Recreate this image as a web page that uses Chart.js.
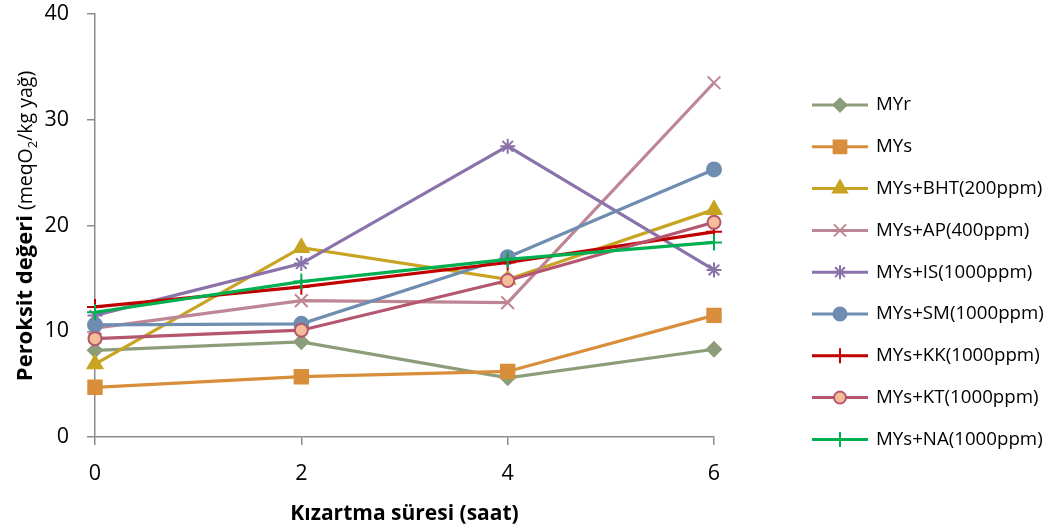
<!DOCTYPE html>
<html>
<head>
<meta charset="utf-8">
<script src="https://cdn.jsdelivr.net/npm/chart.js@4/dist/chart.umd.min.js"></script>
<style>
  html, body { margin: 0; padding: 0; background: #fff; }
  #wrap { width: 1054px; height: 531px; }
</style>
</head>
<body>
<div id="wrap"><canvas id="c" width="1054" height="531"></canvas></div>
<script>
// Frying time (hours) and peroxide values (meqO2/kg oil) per sample
const hours = [0, 2, 4, 6];
const xTicks = [0, 2, 4, 6];
const yTicks = [0, 10, 20, 30, 40];

const seriesNames = [
  'MYr', 'MYs', 'MYs+BHT(200ppm)', 'MYs+AP(400ppm)', 'MYs+IS(1000ppm)',
  'MYs+SM(1000ppm)', 'MYs+KK(1000ppm)', 'MYs+KT(1000ppm)', 'MYs+NA(1000ppm)'
];
const MYr    = [8.2, 9.0, 5.6, 8.3];
const MYs    = [4.7, 5.7, 6.2, 11.5];
const MYsBHT = [6.9, 17.9, 14.9, 21.5];
const MYsAP  = [10.3, 12.9, 12.7, 33.5];
const MYsIS  = [11.5, 16.4, 27.5, 15.8];
const MYsSM  = [10.6, 10.7, 17.0, 25.3];
const MYsKK  = [12.3, 14.2, 16.5, 19.4];
const MYsKT  = [9.3, 10.1, 14.8, 20.3];
const MYsNA  = [11.8, 14.7, 16.8, 18.4];
const seriesValues = [MYr, MYs, MYsBHT, MYsAP, MYsIS, MYsSM, MYsKK, MYsKT, MYsNA];

const lineColors  = ['#8C9D7A', '#D98E3C', '#C9A423', '#BD8694', '#8A72AA', '#6E8DB1', '#C00000', '#B5566F', '#00B050'];
const pointFills  = ['#8C9D7A', '#D98E3C', '#C9A423', '#BD8694', '#8A72AA', '#6E8DB1', '#C00000', '#F5BD98', '#00B050'];
const pointStyles = ['rectRot', 'rect', 'triangle', 'crossRot', 'star', 'circle', 'cross', 'circle', 'cross'];
const pointRadii  = [7, 9.5, 8.5, 9, 7.5, 7, 8, 6.5, 8];

const FONT = '"Open Sans", "Noto Sans", sans-serif';
const TICK_SIZE = 21.5;

const datasets = seriesNames.map((name, i) => ({
  label: name,
  data: hours.map((h, j) => ({ x: h, y: seriesValues[i][j] })),
  borderColor: lineColors[i],
  backgroundColor: pointFills[i],
  borderWidth: 3.2,
  pointStyle: pointStyles[i],
  pointRadius: pointRadii[i],
  pointBorderColor: lineColors[i],
  pointBackgroundColor: pointFills[i],
  pointBorderWidth: 2,
  tension: 0,
  clip: false,
  order: seriesNames.length - i
}));

// Legend drawn to the right of the plot: line sample with marker, then the label
const sideLegend = {
  id: 'sideLegend',
  afterDraw(chart) {
    const ctx = chart.ctx;
    const x0 = 812, x1 = 868, top = 105, step = 41.8;
    ctx.save();
    chart.data.datasets.forEach((ds, i) => {
      const y = top + i * step;
      ctx.strokeStyle = ds.borderColor;
      ctx.lineWidth = 3;
      ctx.beginPath();
      ctx.moveTo(x0, y);
      ctx.lineTo(x1, y);
      ctx.stroke();
      ctx.fillStyle = ds.pointBackgroundColor;
      ctx.strokeStyle = ds.pointBorderColor;
      ctx.lineWidth = ds.pointBorderWidth;
      Chart.helpers.drawPoint(ctx, {
        pointStyle: ds.pointStyle,
        radius: ds.pointRadius - 0.5,
        rotation: 0,
        borderWidth: ds.pointBorderWidth
      }, (x0 + x1) / 2, y);
      ctx.fillStyle = '#000';
      ctx.font = '18.7px ' + FONT;
      ctx.textBaseline = 'middle';
      ctx.textAlign = 'left';
      ctx.fillText(ds.label, 876, y);
    });
    ctx.restore();
  }
};

// Vertical axis title with a bold lead, a lighter unit part and a subscript
const yTitle = {
  id: 'yTitle',
  afterDraw(chart) {
    const ctx = chart.ctx;
    const parts = [
      { t: 'Peroksit değeri', f: 'bold 22px ' + FONT, dy: 0 },
      { t: ' (meqO', f: '19.5px ' + FONT, dy: 0 },
      { t: '2', f: '13px ' + FONT, dy: 5 },
      { t: '/kg yağ)', f: '19.5px ' + FONT, dy: 0 }
    ];
    ctx.save();
    let total = 0;
    parts.forEach(p => { ctx.font = p.f; p.w = ctx.measureText(p.t).width; total += p.w; });
    ctx.translate(24, 226);
    ctx.rotate(-Math.PI / 2);
    ctx.fillStyle = '#000';
    ctx.textBaseline = 'alphabetic';
    ctx.textAlign = 'left';
    let x = -total / 2;
    parts.forEach(p => {
      ctx.font = p.f;
      ctx.fillText(p.t, x, 8 + p.dy);
      x += p.w;
    });
    ctx.restore();
  }
};

new Chart(document.getElementById('c'), {
  type: 'line',
  data: { datasets },
  options: {
    responsive: false,
    animation: false,
    events: [],
    layout: { padding: { left: 0, right: 340, top: 14, bottom: 0 } },
    plugins: { legend: { display: false }, tooltip: { enabled: false } },
    scales: {
      x: {
        type: 'linear',
        min: 0,
        max: 6,
        afterFit(scale) { scale.height = 94; },
        afterBuildTicks(scale) { scale.ticks = xTicks.map(v => ({ value: v })); },
        border: { display: true, color: '#8C8C8C', width: 1.5 },
        grid: { display: true, drawOnChartArea: false, drawTicks: true, tickLength: 8, color: '#8C8C8C', lineWidth: 1.5 },
        ticks: { color: '#000', font: { family: FONT, size: TICK_SIZE }, padding: 16 },
        title: {
          display: true,
          text: 'Kızartma süresi (saat)',
          color: '#000',
          font: { family: FONT, size: 21, weight: 'bold' },
          padding: { top: 0, bottom: 4 }
        }
      },
      y: {
        min: 0,
        max: 40,
        afterFit(scale) { scale.width = 95; scale.paddingTop = 0; scale.paddingBottom = 0; },
        afterBuildTicks(scale) { scale.ticks = yTicks.map(v => ({ value: v })); },
        border: { display: true, color: '#8C8C8C', width: 1.5 },
        grid: { display: true, drawOnChartArea: false, drawTicks: true, tickLength: 8, color: '#8C8C8C', lineWidth: 1.5 },
        ticks: { color: '#000', font: { family: FONT, size: TICK_SIZE }, padding: 18 },
        title: { display: false }
      }
    }
  },
  plugins: [sideLegend, yTitle]
});
</script>
</body>
</html>
